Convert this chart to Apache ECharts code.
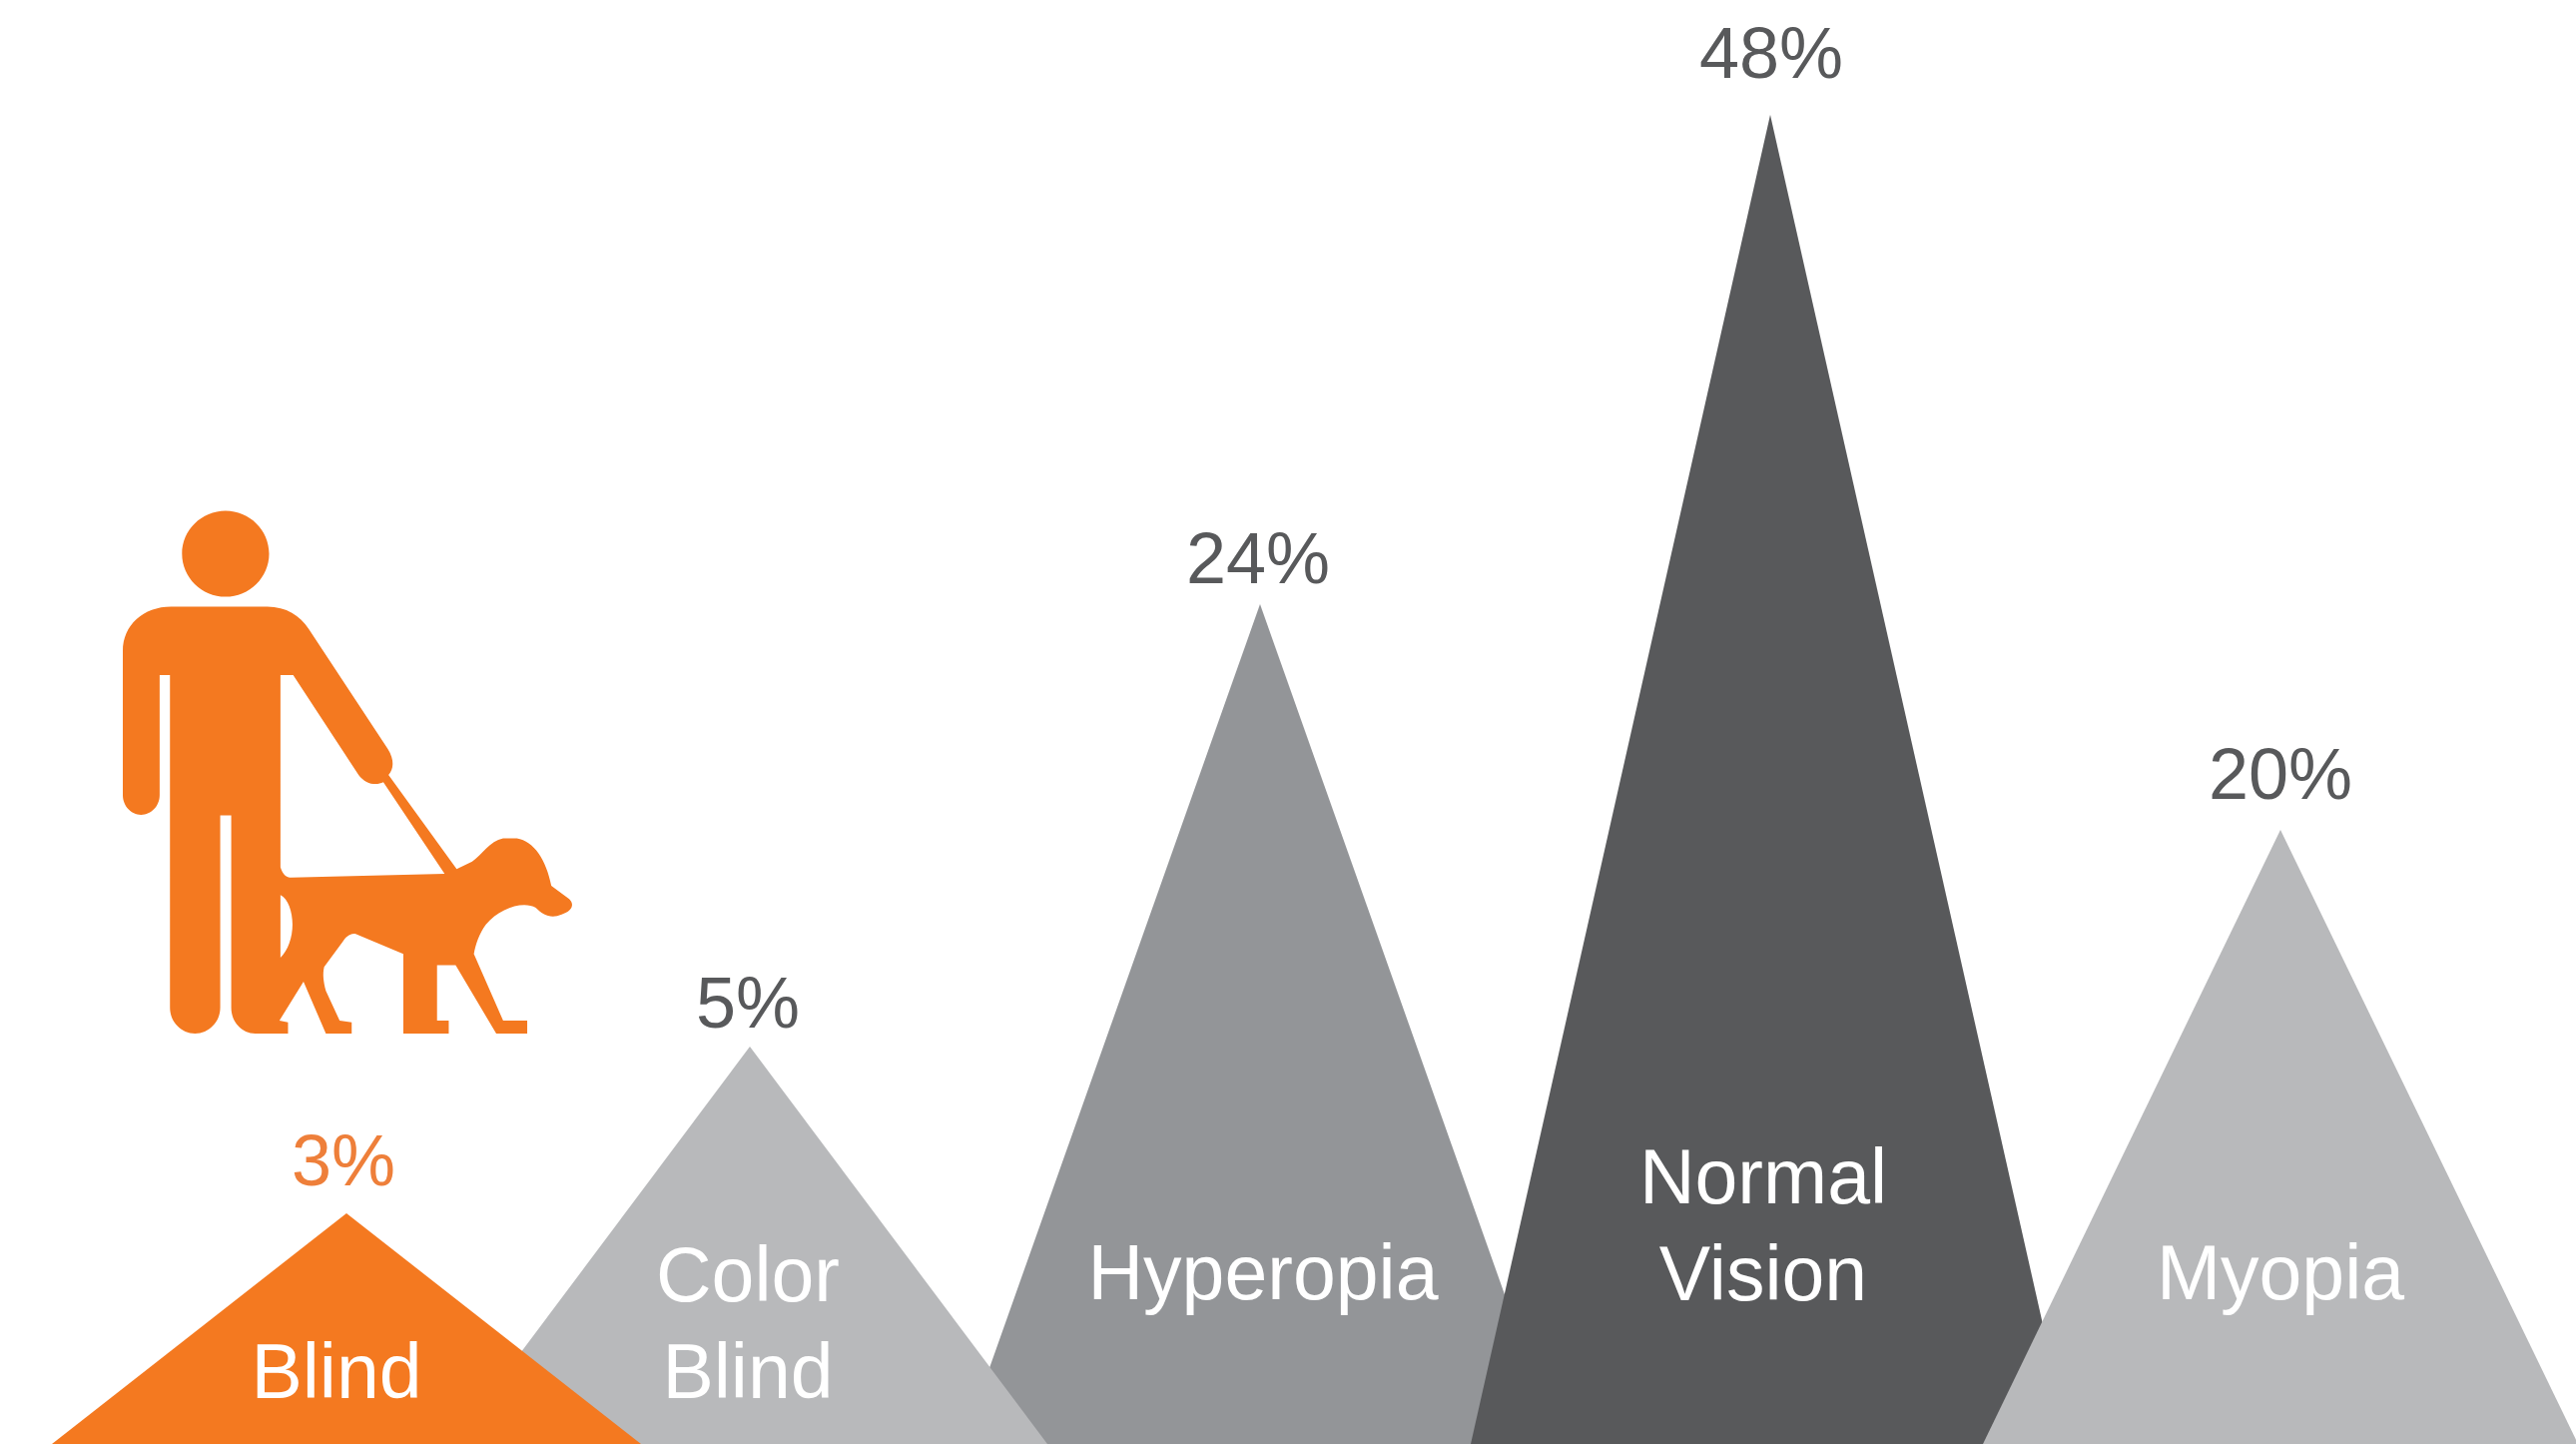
<!DOCTYPE html>
<html>
<head>
<meta charset="utf-8">
<style>html,body{margin:0;padding:0;background:#fff}#c{width:2580px;height:1446px}</style>
<script src="https://cdn.jsdelivr.net/npm/echarts@6/dist/echarts.min.js"></script>
</head>
<body>
<div id="c"></div>
<script>
// Data
const categories = ['Blind', 'Color\nBlind', 'Hyperopia', 'Normal\nVision', 'Myopia'];
const percentLabels = ['3%', '5%', '24%', '48%', '20%'];
// Drawn peak height (the peaks are not proportional to the printed percentages)
const peakHeights = [8.33, 14.35, 30.33, 48, 22.18];

// Presentation only
const fills = ['#F47920', '#B8B9BB', '#939598', '#58595B', '#B8B9BB'];
const stacking = [5, 4, 1, 2, 3];
const peakShiftPx = [107, 0, 0, 0, 0];
const halfBasePx = [295, 298, 298, 300, 298];
const percentColors = ['#EE7F3A', '#58595B', '#58595B', '#58595B', '#58595B'];
const percentRisePx = [48, 39, 41, 57, 51];
const percentShiftPx = [-3, -2, -2, 1, 0];
const nameRisePx = [67, 116, 166, 214, 166];
const nameShiftPx = [-10, -2, 3, -7, 0];
const FONT = '"Liberation Sans"';

const iconPath =
  'M265 345 L545 345 C600 345 640 370 665 405 L895 730 C915 760 912 785 897 800 L1095 1055 L1140 1035 ' +
  'C1170 1015 1190 980 1230 972 L1270 972 C1320 980 1355 1030 1370 1100 L1420 1135 C1440 1150 1430 1170 1400 1178 ' +
  'C1370 1190 1345 1180 1325 1160 C1290 1140 1220 1160 1180 1205 C1160 1230 1150 1260 1145 1285 L1230 1465 L1300 1465 ' +
  'L1300 1500 L1210 1500 L1092 1315 L1038 1315 L1038 1465 L1072 1465 L1072 1500 L940 1500 L940 1285 L800 1230 ' +
  'C785 1228 772 1240 765 1250 L710 1320 C705 1340 708 1360 715 1385 L755 1465 L790 1470 L790 1500 L715 1500 L650 1360 ' +
  'L580 1465 L605 1470 L605 1500 L510 1500 C471 1500 440 1469 440 1430 L440 910 L408 910 L408 1430 C408 1469 375 1500 335 1500 ' +
  'C295 1500 262 1469 262 1430 L262 530 L232 530 L232 855 C232 884 208 908 178 908 C149 908 125 884 125 855 L125 465 ' +
  'C125 395 185 345 265 345 Z ' +
  'M583 530 L583 1050 C590 1070 600 1078 615 1078 L1060 1068 L882 820 C860 830 830 825 810 800 L620 530 Z ' +
  'M583 1125 L583 1295 C605 1275 618 1240 618 1205 C618 1170 605 1135 583 1125 Z ' +
  'M297 201.5 C297 137.4 353.9 85 423.5 85 C493.1 85 550 137.4 550 201.5 C550 265.6 493.1 318 423.5 318 C353.9 318 297 265.6 297 201.5 Z';

const chart = echarts.init(document.getElementById('c'), null, {renderer: 'canvas'});
chart.setOption({
  backgroundColor: '#ffffff',
  animation: false,
  tooltip: {show: false},
  grid: {left: 240, top: 115, width: 2044, height: 1331, containLabel: false},
  xAxis: {type: 'category', data: categories, show: false, boundaryGap: false},
  yAxis: {type: 'value', min: 0, max: 48, show: false},
  series: [{
    type: 'custom',
    coordinateSystem: 'cartesian2d',
    clip: false,
    silent: true,
    encode: {x: 0, y: 1},
    data: categories.map((c, i) => [c, peakHeights[i]]),
    renderItem(params, api) {
      const i = params.dataIndex;
      const apex = api.coord([i, api.value(1)]);
      const base = api.coord([i, 0]);
      const half = halfBasePx[i];
      const cx = apex[0] + peakShiftPx[i];
      return {
        type: 'group',
        children: [{
          type: 'polygon',
          z2: stacking[i],
          shape: {points: [[cx, apex[1]], [cx + half, base[1]], [cx - half, base[1]]]},
          style: {fill: fills[i]}
        }, {
          type: 'text',
          z2: 20,
          x: cx + percentShiftPx[i],
          y: apex[1] - percentRisePx[i],
          style: {
            text: percentLabels[i], fill: percentColors[i],
            font: '72px ' + FONT, align: 'center', verticalAlign: 'middle'
          }
        }, {
          type: 'text',
          z2: 20,
          x: cx + nameShiftPx[i],
          y: base[1] - nameRisePx[i],
          style: {
            text: categories[i], fill: '#ffffff',
            font: '77px ' + FONT, lineHeight: 97, align: 'center', verticalAlign: 'middle'
          }
        }]
      };
    }
  }, {
    type: 'custom',
    coordinateSystem: 'none',
    silent: true,
    data: [[0]],
    renderItem() {
      return {
        type: 'path',
        shape: {pathData: iconPath, layout: 'cover', x: 123, y: 511.4, width: 450, height: 523.5},
        style: {fill: '#F47920'}
      };
    }
  }]
});
</script>
</body>
</html>
